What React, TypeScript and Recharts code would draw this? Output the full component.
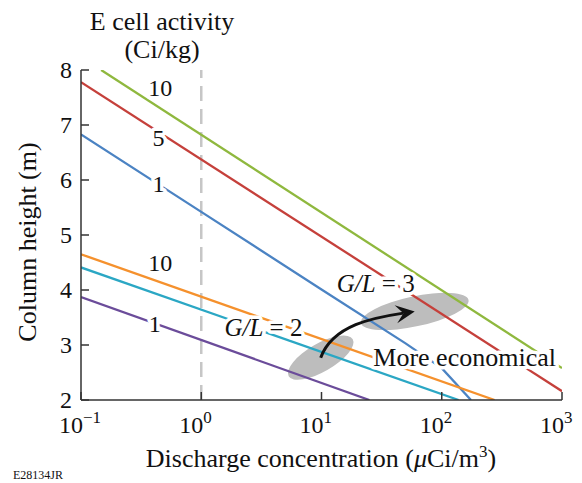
import React from 'react';
import { LineChart, Line, XAxis, YAxis, ReferenceLine, ReferenceDot } from 'recharts';

const xTicks = [0.1, 1, 10, 100, 1000];
const yTicks = [2, 3, 4, 5, 6, 7, 8];

// G/L = 3, E cell activity 10 / 5 / 1 Ci/kg
const gl3a10X = [0.147, 1000];
const gl3a10Y = [8.0, 2.58];
const gl3a5X = [0.1, 1000];
const gl3a5Y = [7.78, 2.16];
const gl3a1X = [0.1, 1, 10, 50, 100, 175];
const gl3a1Y = [6.83, 5.42, 4.01, 3.03, 2.58, 2.0];

// G/L = 2, E cell activity 10 / 5 / 1 Ci/kg
const gl2a10X = [0.1, 275];
const gl2a10Y = [4.65, 2.0];
const gl2a5X = [0.1, 138];
const gl2a5Y = [4.41, 2.0];
const gl2a1X = [0.1, 25];
const gl2a1Y = [3.87, 2.0];

const serif = '"Liberation Serif", "Times New Roman", serif';
const frame = '#333';

const toPoints = (xs: number[], ys: number[]) => xs.map((x, i) => ({ x, y: ys[i] }));

const series = [
  { key: 'g3a10', xs: gl3a10X, ys: gl3a10Y, color: '#8fb83e' },
  { key: 'g3a5', xs: gl3a5X, ys: gl3a5Y, color: '#c5403b' },
  { key: 'g3a1', xs: gl3a1X, ys: gl3a1Y, color: '#4b83c3' },
  { key: 'g2a10', xs: gl2a10X, ys: gl2a10Y, color: '#f5912d' },
  { key: 'g2a5', xs: gl2a5X, ys: gl2a5Y, color: '#2ba7c4' },
  { key: 'g2a1', xs: gl2a1X, ys: gl2a1Y, color: '#6b4c9a' },
];

// on-plot annotations
const noteText = ['10', '5', '1', '10', '1', 'G/L = 2', 'G/L = 3', 'More economical'];
const noteX = [0.455, 0.44, 0.44, 0.455, 0.41, 3.29, 28.2, 155];
const noteY = [7.67, 6.76, 5.93, 4.49, 3.38, 3.31, 4.11, 2.78];
const noteSize = [24, 24, 24, 24, 24, 25, 25, 26];

// grey regions (centre values)
const blobX = [9.85, 59.6];
const blobY = [2.77, 3.61];

const sup = (e: number) => (e < 0 ? '\u2212' + Math.abs(e) : String(e));

const BottomTick = (props: any) => {
  const { x, y, payload } = props;
  const e = Math.round(Math.log10(payload.value));
  return (
    <g>
      <line x1={x} y1={y} x2={x} y2={y - 8} stroke={frame} strokeWidth={1.5} />
      <text x={x - 22} y={y + 33} textAnchor="start" fontSize={24} fontFamily={serif} fill="#111">
        10<tspan dy={-10} fontSize={17}>{sup(e)}</tspan>
      </text>
    </g>
  );
};

const LeftTick = (props: any) => {
  const { x, y, payload } = props;
  return (
    <g>
      <line x1={x} y1={y} x2={x + 8} y2={y} stroke={frame} strokeWidth={1.5} />
      <text x={x - 9} y={y + 8} textAnchor="end" fontSize={24} fontFamily={serif} fill="#111">
        {payload.value}
      </text>
    </g>
  );
};

const TopTick = (props: any) => (
  <line x1={props.x} y1={props.y} x2={props.x} y2={props.y + 8} stroke={frame} strokeWidth={1.5} />
);

const RightTick = (props: any) => (
  <line x1={props.x} y1={props.y} x2={props.x - 8} y2={props.y} stroke={frame} strokeWidth={1.5} />
);

const blobShapes = [
  { rx: 37, ry: 14, rot: -30 },
  { rx: 55, ry: 15, rot: -12 },
];

const noteLabel = (text: string, fs: number) => (p: any) => {
  const m = text.match(/^G\/L = (\d)$/);
  return (
    <text
      x={p.cx}
      y={p.cy + fs * 0.34}
      textAnchor="middle"
      fontSize={fs}
      fontFamily={serif}
      fill="#111"
      stroke="#fff"
      strokeWidth={7}
      paintOrder="stroke"
      strokeLinejoin="round"
    >
      {m ? (
        <>
          <tspan fontStyle="italic">G/L</tspan>
          <tspan> = {m[1]}</tspan>
        </>
      ) : (
        text
      )}
    </text>
  );
};

const Arrow = (p: any) => {
  const { x1, y1, x2, y2 } = p;
  const dx = x2 - x1;
  const dy = y2 - y1;
  const c1x = x1 + 0.13 * dx;
  const c1y = y1 + 0.71 * dy;
  const c2x = x1 + 0.57 * dx;
  const c2y = y1 + 0.87 * dy;
  const ang = Math.atan2(y2 - c2y, x2 - c2x);
  const L = 19;
  const W = 9;
  const ux = Math.cos(ang);
  const uy = Math.sin(ang);
  const bx = x2 - ux * L;
  const by = y2 - uy * L;
  const nx = x2 - ux * L * 0.6;
  const ny = y2 - uy * L * 0.6;
  const head = [
    [x2, y2],
    [bx - uy * W, by + ux * W],
    [nx, ny],
    [bx + uy * W, by - ux * W],
  ]
    .map((q) => q.join(','))
    .join(' ');
  return (
    <g>
      <path
        d={`M${x1},${y1} C${c1x},${c1y} ${c2x},${c2y} ${nx},${ny}`}
        fill="none"
        stroke="#111"
        strokeWidth={3}
      />
      <polygon points={head} fill="#111" />
    </g>
  );
};

export default function App() {
  return (
    <div style={{ position: 'relative', width: 574, height: 475 }}>
      <style>{'.recharts-surface{overflow:visible}'}</style>
      <LineChart width={574} height={475} margin={{ top: 62, right: 20, bottom: 43, left: 0 }}>
        <XAxis
          dataKey="x"
          type="number"
          scale="log"
          domain={[0.1, 1000]}
          ticks={xTicks}
          interval={0}
          allowDataOverflow
          height={40}
          tickSize={0}
          tickMargin={0}
          tickLine={false}
          axisLine={{ stroke: frame, strokeWidth: 1.5 }}
          tick={<BottomTick />}
        />
        <XAxis
          xAxisId="top"
          orientation="top"
          dataKey="x"
          type="number"
          scale="log"
          domain={[0.1, 1000]}
          ticks={[1, 10, 100]}
          interval={0}
          allowDataOverflow
          height={0}
          tickSize={0}
          tickMargin={0}
          tickLine={false}
          axisLine={{ stroke: frame, strokeWidth: 1.5 }}
          tick={<TopTick />}
        />
        <YAxis
          type="number"
          domain={[2, 8]}
          ticks={yTicks}
          interval={0}
          allowDataOverflow
          width={73}
          tickSize={0}
          tickMargin={0}
          tickLine={false}
          axisLine={{ stroke: frame, strokeWidth: 1.5 }}
          tick={<LeftTick />}
        />
        <YAxis
          yAxisId="right"
          orientation="right"
          type="number"
          domain={[2, 8]}
          ticks={[3, 4, 5, 6, 7]}
          interval={0}
          allowDataOverflow
          width={0}
          tickSize={0}
          tickMargin={0}
          tickLine={false}
          axisLine={{ stroke: frame, strokeWidth: 1.5 }}
          tick={<RightTick />}
        />
        {blobX.map((bx, i) => (
          <ReferenceDot
            key={'blob' + i}
            x={bx}
            y={blobY[i]}
            r={1}
            zIndex={50}
            shape={(p: any) => (
              <ellipse
                cx={p.cx}
                cy={p.cy}
                rx={blobShapes[i].rx}
                ry={blobShapes[i].ry}
                transform={`rotate(${blobShapes[i].rot} ${p.cx} ${p.cy})`}
                fill="#bdbdbd"
              />
            )}
          />
        ))}
        <ReferenceLine x={1} zIndex={60} stroke="#c6c6c6" strokeWidth={2.5} strokeDasharray="15 8" />
        {series.map((s) => (
          <Line
            key={s.key}
            data={toPoints(s.xs, s.ys)}
            dataKey="y"
            stroke={s.color}
            strokeWidth={2.3}
            dot={false}
            activeDot={false}
            isAnimationActive={false}
          />
        ))}
        <ReferenceLine
          zIndex={1500}
          segment={[
            { x: blobX[0], y: blobY[0] },
            { x: blobX[1], y: blobY[1] },
          ]}
          shape={<Arrow />}
        />
        {noteText.map((t, i) => (
          <ReferenceDot
            key={'n' + i}
            zIndex={1600}
            x={noteX[i]}
            y={noteY[i]}
            r={1}
            shape={noteLabel(t, noteSize[i])}
          />
        ))}
      </LineChart>
      <svg
        width={574}
        height={475}
        style={{ position: 'absolute', left: 0, top: 0, pointerEvents: 'none', overflow: 'visible' }}
        fontFamily={serif}
        fill="#111"
      >
        <text x={154} y={22} textAnchor="middle" fontSize={26}>E cell activity</text>
        <text x={154} y={50} textAnchor="middle" fontSize={26}>(Ci/kg)</text>
        <text x={19} y={234} textAnchor="middle" fontSize={26} transform="rotate(-90 19 234)" dy={9}>
          Column height (m)
        </text>
        <text x={313} y={459} textAnchor="middle" fontSize={26}>
          Discharge concentration (<tspan fontStyle="italic">μ</tspan>Ci/m
          <tspan dy={-10} fontSize={17}>3</tspan>
          <tspan dy={10}>)</tspan>
        </text>
        <text x={5} y={471} fontSize={12}>E28134JR</text>
      </svg>
    </div>
  );
}
